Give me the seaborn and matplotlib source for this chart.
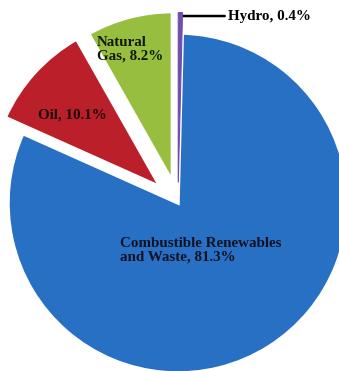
import numpy as np
import matplotlib
matplotlib.use("Agg")
import matplotlib.pyplot as plt
import seaborn as sns

categories = ["Hydro", "Combustible Renewables\nand Waste", "Oil", "Natural\nGas"]
shares = [0.4, 81.3, 10.1, 8.2]
colors = ["#6E4FB0", "#2870C4", "#BA1F2A", "#98BE40"]
explode = [0.12, 0.0, 0.14, 0.13]

sns.set_theme(style="white")
plt.rcParams["font.family"] = ["Liberation Serif", "DejaVu Serif"]

W, H = 339, 371
fig = plt.figure(figsize=(W / 100, H / 100), dpi=100)
ax = fig.add_axes([0, 0, 1, 1])

wedges, _ = ax.pie(shares, colors=colors, explode=explode, startangle=90,
                   counterclock=False, radius=1.0,
                   wedgeprops=dict(edgecolor="white", linewidth=2.5))
# keep the very thin hydro slice visible
wedges[0].set_edgecolor(colors[0])
wedges[0].set_linewidth(0.8)
wedges[0].set_zorder(5)

# pixel layout -> data coords (centre of pie at pixel (178, 203), radius 170 px)
cxp, cyp, rp = 178, 203, 170
def px(x, y):
    return (x - cxp) / rp, (cyp - y) / rp

ax.set_aspect("auto")
ax.set_xlim(px(0, 0)[0], px(W, 0)[0])
ax.set_ylim(px(0, H)[1], px(0, 0)[1])
ax.axis("off")

fs = 10.8
lab = [f"{c}, {v}%" for c, v in zip(categories, shares)]

x, y = px(120, 250)
ax.text(x, y, lab[1], ha="left", va="center", fontsize=fs, fontweight="bold", color="#111122", linespacing=1.05)
x, y = px(38, 115)
ax.text(x, y, lab[2], ha="left", va="center", fontsize=fs, fontweight="bold", color="#1a0a0a")
x, y = px(97, 49)
ax.text(x, y, lab[3], ha="left", va="center", fontsize=fs, fontweight="bold", color="#111a05", linespacing=1.05)

# hydro leader line from the wedge tip
w = wedges[0]
cx, cy = w.center
ang = np.deg2rad((w.theta1 + w.theta2) / 2)
tip = (cx + 0.98 * w.r * np.cos(ang), cy + 0.98 * w.r * np.sin(ang))
tx, _ = px(228, 0)
ax.annotate(lab[0], xy=tip, xytext=(tx, tip[1]), ha="left", va="center",
            fontsize=fs, fontweight="bold", color="black",
            arrowprops=dict(arrowstyle="-", color="black", lw=1.8, shrinkA=0, shrinkB=0))

fig.savefig("out.png", dpi=100)
